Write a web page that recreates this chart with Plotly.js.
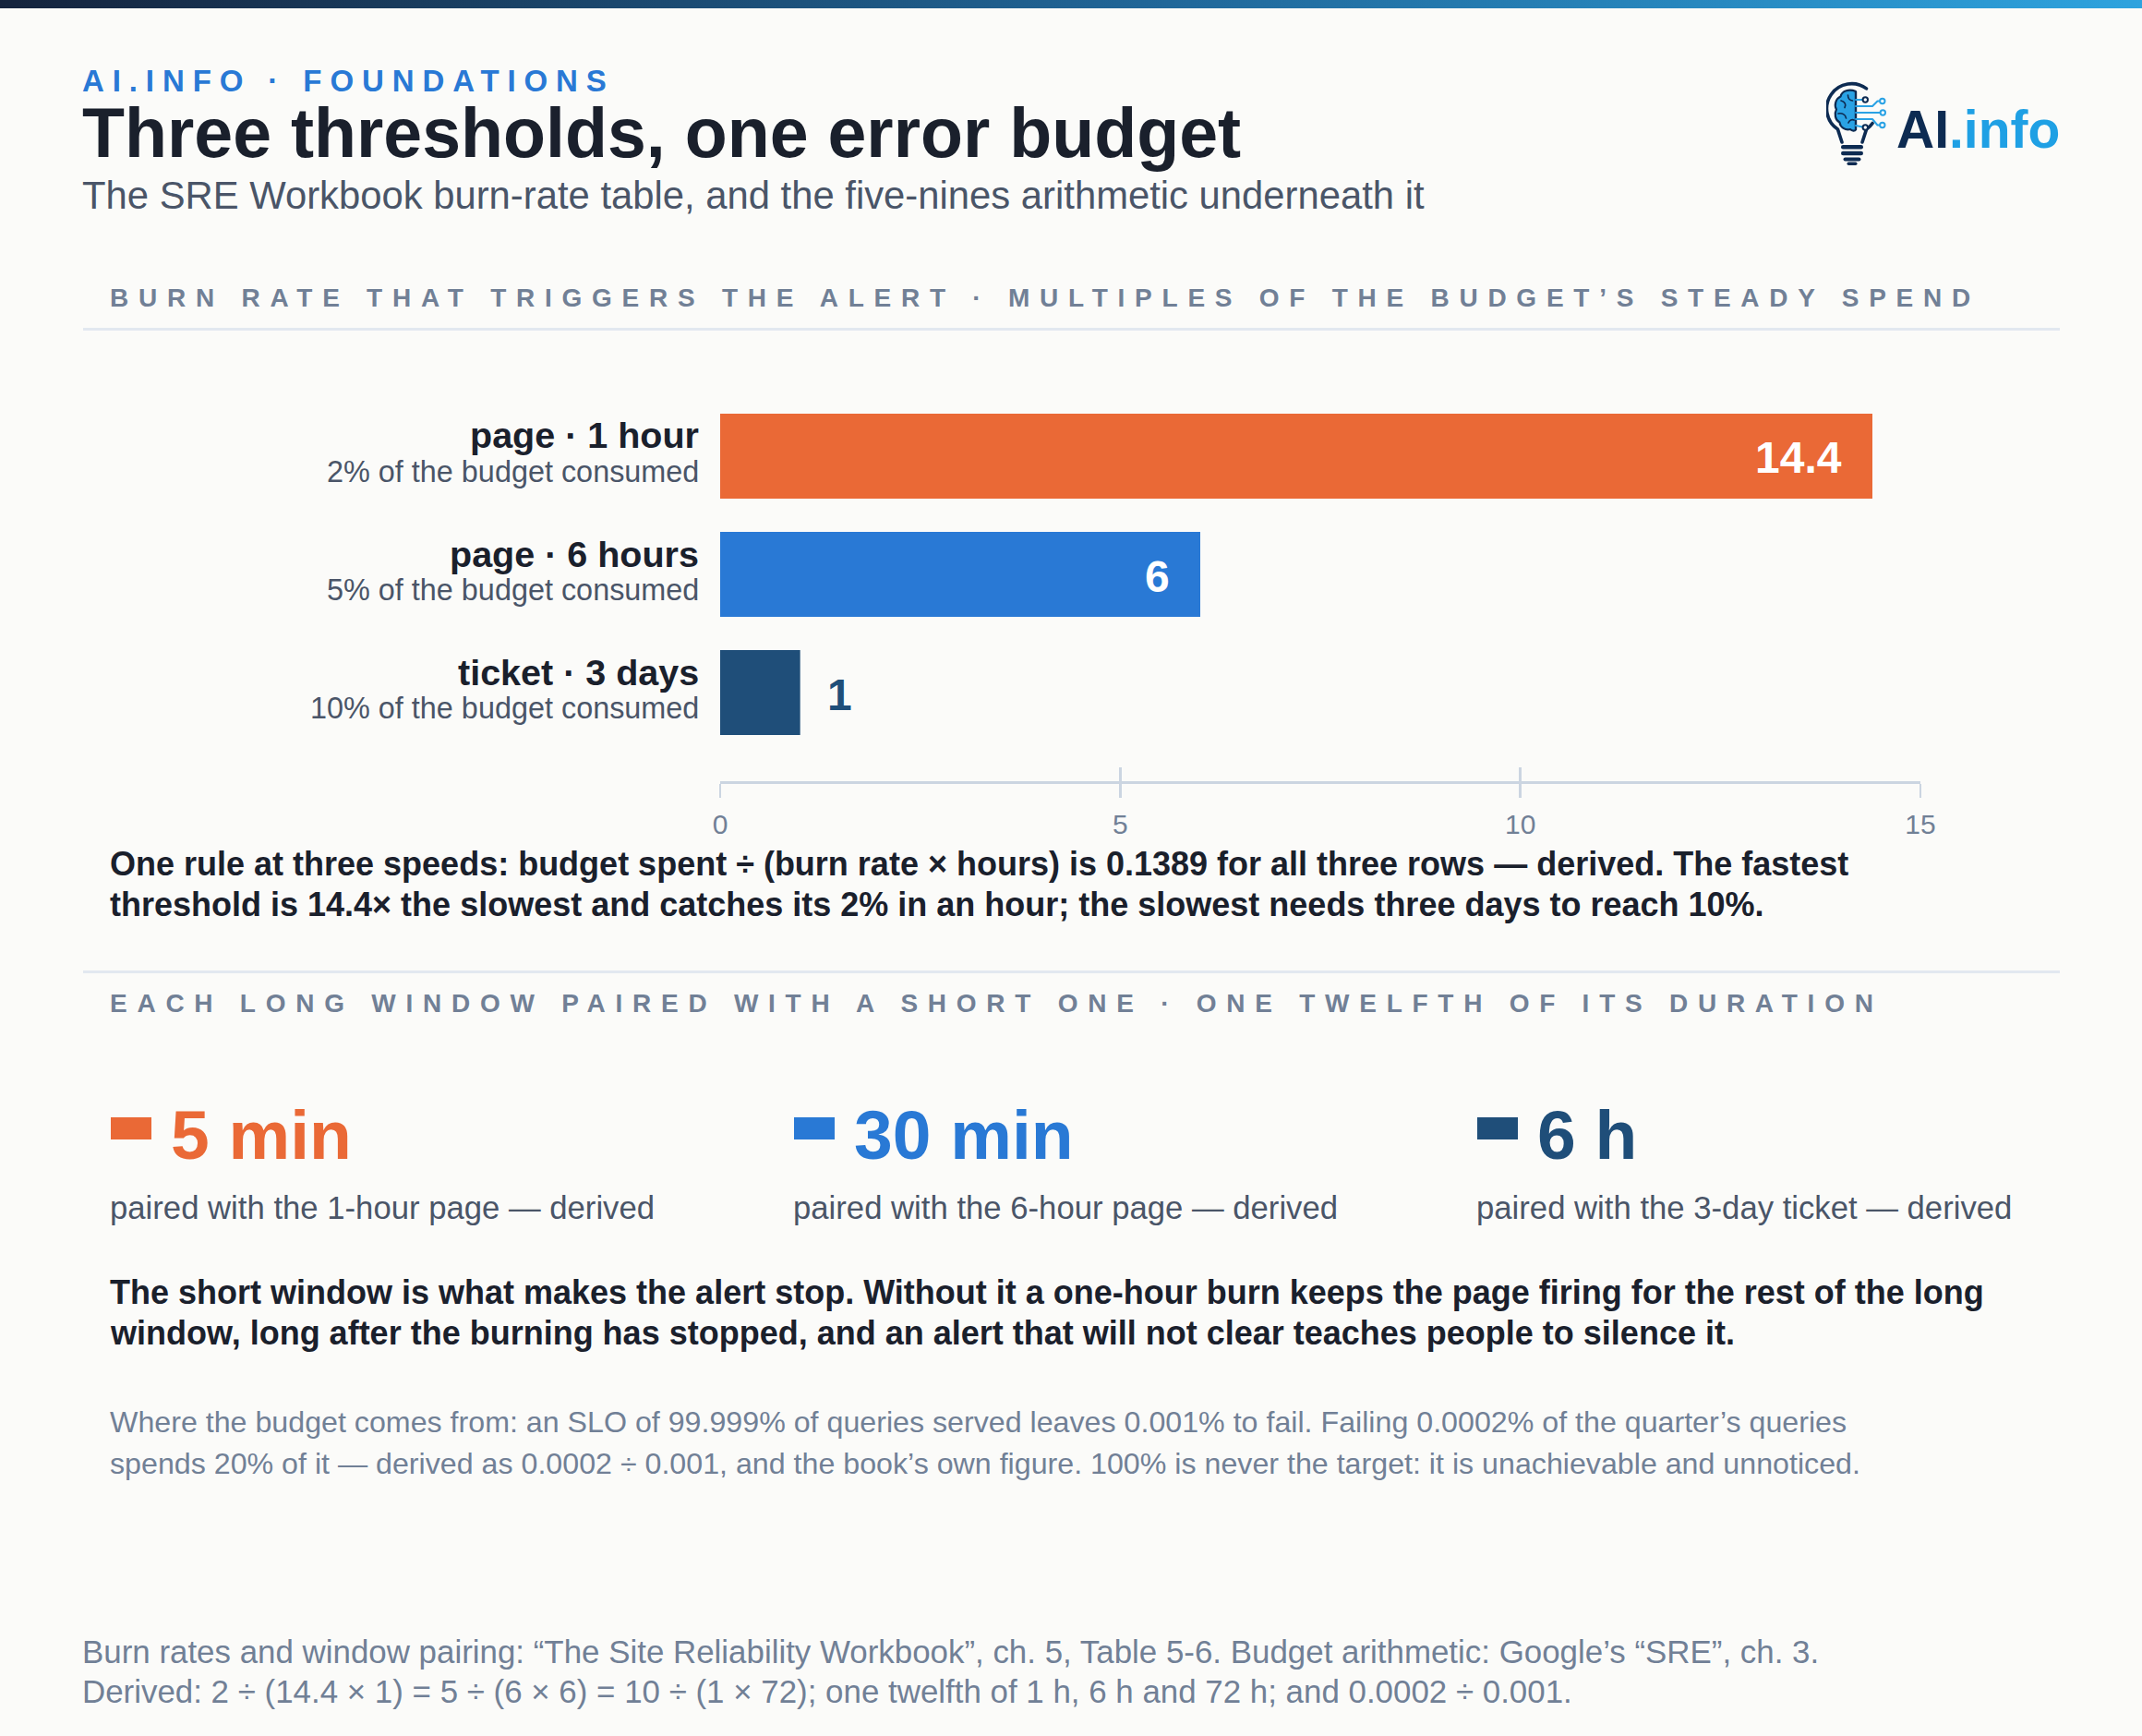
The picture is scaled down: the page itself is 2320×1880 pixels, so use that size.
<!DOCTYPE html>
<html>
<head>
<meta charset="utf-8">
<script src="https://cdn.plot.ly/plotly-3.0.1.min.js"></script>
<style>
html, body { margin: 0; padding: 0; background: #fbfbf9; }
#chart { width: 2320px; height: 1880px; }
</style>
</head>
<body>
<div id="chart"></div>
<script>
// ---------------- DATA ----------------
const rows = ['page · 1 hour', 'page · 6 hours', 'ticket · 3 days'];
const budgetNotes = ['2% of the budget consumed', '5% of the budget consumed', '10% of the budget consumed'];
const burnRates = [14.4, 6, 1];
const xTickValues = [0, 5, 10, 15];
const shortWindows = ['5 min', '30 min', '6 h'];
const pairings = [
  'paired with the 1-hour page — derived',
  'paired with the 6-hour page — derived',
  'paired with the 3-day ticket — derived'
];

// ---------------- TEXT ----------------
const kicker = 'AI.INFO · FOUNDATIONS';
const titleText = 'Three thresholds, one error budget';
const subtitleText = 'The SRE Workbook burn-rate table, and the five-nines arithmetic underneath it';
const section1 = 'BURN RATE THAT TRIGGERS THE ALERT · MULTIPLES OF THE BUDGET’S STEADY SPEND';
const section2 = 'EACH LONG WINDOW PAIRED WITH A SHORT ONE · ONE TWELFTH OF ITS DURATION';
const para1 = [
  'One rule at three speeds: budget spent ÷ (burn rate × hours) is 0.1389 for all three rows — derived. The fastest',
  'threshold is 14.4× the slowest and catches its 2% in an hour; the slowest needs three days to reach 10%.'
];
const para2 = [
  'The short window is what makes the alert stop. Without it a one-hour burn keeps the page firing for the rest of the long',
  'window, long after the burning has stopped, and an alert that will not clear teaches people to silence it.'
];
const para3 = [
  'Where the budget comes from: an SLO of 99.999% of queries served leaves 0.001% to fail. Failing 0.0002% of the quarter’s queries',
  'spends 20% of it — derived as 0.0002 ÷ 0.001, and the book’s own figure. 100% is never the target: it is unachievable and unnoticed.'
];
const footer = [
  'Burn rates and window pairing: “The Site Reliability Workbook”, ch. 5, Table 5-6. Budget arithmetic: Google’s “SRE”, ch. 3.',
  'Derived: 2 ÷ (14.4 × 1) = 5 ÷ (6 × 6) = 10 ÷ (1 × 72); one twelfth of 1 h, 6 h and 72 h; and 0.0002 ÷ 0.001.'
];

// ---------------- STYLE ----------------
const PALETTE = ['#ea6936', '#2979d5', '#1f4e79'];
const W = 2320, H = 1880;
const FONT = '"Liberation Sans", Arial, Helvetica, sans-serif';
const INK = '#1a202c', SLATE = '#4a5568', MUTED = '#718096', RULE = '#e2e8f0', AXIS = '#cbd5e1';
const px = x => x / W;
const py = y => 1 - y / H;
const L1 = 87, L2 = 117;   // text left edges (outer / inner column)

const annotations = [];
const spacing = {};
function txt(x, y, text, size, color, opts) {
  opts = opts || {};
  if (opts.spacing) spacing[annotations.length] = opts.spacing;
  annotations.push(Object.assign({
    xref: 'paper', yref: 'paper', x: px(x), y: py(y),
    xanchor: 'left', yanchor: 'middle', align: 'left', showarrow: false, borderpad: 0,
    text: text,
    font: { family: FONT, size: size, color: color, weight: opts.bold ? 700 : 400 }
  }, opts.extra || {}));
}

// Header
txt(L1 + 1, 87.5, kicker, 33, PALETTE[1], { bold: true, spacing: 8.9 });
txt(L1 + 1, 144, titleText, 75.3, INK, { bold: true });
txt(L1 + 1, 211.5, subtitleText, 41.8, SLATE);

// Logo wordmark
txt(2053, 140, '<span style="color:#0d2b52">AI</span><span style="color:#1fa0e4">.info</span>', 57, '#0d2b52', { bold: true });

// Section headers
txt(L2 + 1, 322.5, section1, 28, MUTED, { bold: true, spacing: 10.75 });
txt(L2 + 1, 1086.5, section2, 28, MUTED, { bold: true, spacing: 10.75 });

// Row labels (through the y scale)
rows.forEach((r, i) => {
  annotations.push({
    xref: 'paper', yref: 'y', x: px(758.5), y: r, yshift: 22.5,
    xanchor: 'right', yanchor: 'middle', align: 'right', showarrow: false,
    text: r, font: { family: FONT, size: 39.5, color: INK, weight: 700 }
  });
  annotations.push({
    xref: 'paper', yref: 'y', x: px(758.5), y: r, yshift: -17,
    xanchor: 'right', yanchor: 'middle', align: 'right', showarrow: false,
    text: budgetNotes[i], font: { family: FONT, size: 32.4, color: SLATE }
  });
});

// Value labels (through the x and y scales)
burnRates.forEach((v, i) => {
  const inside = v >= 3;
  annotations.push({
    xref: 'x', yref: 'y', x: v, y: rows[i],
    xanchor: inside ? 'right' : 'left', yanchor: 'middle',
    xshift: inside ? -31 : 27, yshift: -2, showarrow: false,
    text: String(v),
    font: { family: FONT, size: 48, color: inside ? '#ffffff' : PALETTE[i], weight: 700 }
  });
});

// Paragraphs
para1.forEach((l, i) => txt(L2 + 1, 936 + i * 43.5, l, 36, INK, { bold: true }));
para2.forEach((l, i) => txt(L2 + 1, 1399 + i * 44.5, l, 36, INK, { bold: true }));
para3.forEach((l, i) => txt(L2 + 1, 1540 + i * 44.5, l, 32.2, MUTED));
footer.forEach((l, i) => txt(L1 + 1, 1788 + i * 43, l, 34.9, MUTED));

// Stat row
const shapes = [];
shortWindows.forEach((w, i) => {
  const cx = 120 + i * 740;
  shapes.push({ type: 'rect', xref: 'paper', yref: 'paper', x0: px(cx), x1: px(cx + 44), y0: py(1234), y1: py(1210),
    fillcolor: PALETTE[i], line: { width: 0 } });
  txt(cx + 63.5, 1229, w, 75, PALETTE[i], { bold: true });
  txt(cx - 2, 1308, pairings[i], 34.7, SLATE);
});

// Dividers
[356.5, 1052.5].forEach(y => shapes.push({ type: 'line', xref: 'paper', yref: 'paper', x0: px(90), x1: px(2231), y0: py(y), y1: py(y),
  line: { color: RULE, width: 3 } }));

// Images: top gradient strip and logo bulb
const gradSvg = '<svg xmlns="http://www.w3.org/2000/svg" width="2320" height="9" viewBox="0 0 2320 9" preserveAspectRatio="none">' +
  '<defs><linearGradient id="g" x1="0" x2="1" y1="0" y2="0"><stop offset="0" stop-color="#15243d"/><stop offset="0.55" stop-color="#21689a"/><stop offset="1" stop-color="#2ea3de"/></linearGradient></defs>' +
  '<rect width="2320" height="9" fill="url(#g)"/></svg>';
const bulbSvg = '<svg xmlns="http://www.w3.org/2000/svg" width="72" height="92" viewBox="0 0 72 92">' +
  '<g fill="none" stroke="#0d2b52" stroke-width="3.6" stroke-linecap="round" stroke-linejoin="round">' +
  '<path d="M43.5 7.9 A27 27 0 1 0 12.5 52.1 L17 66"/>' +
  '<path d="M39 66 L43.5 52.1 A27 27 0 0 0 50.1 45.5"/></g>' +
  '<g fill="#0d2b52"><rect x="16" y="69" width="24" height="4.4" rx="2.2"/><rect x="16" y="75.8" width="24" height="4.4" rx="2.2"/>' +
  '<rect x="18.5" y="82.5" width="19" height="4" rx="2"/><rect x="22.5" y="87.5" width="11" height="3.5" rx="1.7"/></g>' +
  '<path d="M32 11 C25 8 17 10 15.5 16.5 C10 19 8.5 26 11 30.5 C8.5 35 9.5 42 14.5 44.5 C15 50 21 53.5 26 52 C28 54 31 54 32 52.5 Z" fill="#2aa2e4" stroke="#0d2b52" stroke-width="2.2" stroke-linejoin="round"/>' +
  '<path d="M32 11 L32 52.5" stroke="#0d2b52" stroke-width="2.2"/>' +
  '<path d="M16 21 C20 22 22 25 20 28.5 M13 35 C17 34 21 36 21.5 40 M23.5 15 C23.5 19 26 21 28.5 21 M24 45 C25 42 28 41 30 42" fill="none" stroke="#0d2b52" stroke-width="1.7" stroke-linecap="round"/>' +
  '<g fill="none" stroke="#2aa2e4" stroke-width="2" stroke-linecap="round" stroke-linejoin="round">' +
  '<path d="M32 20 L39.5 20"/><path d="M32 27 L50 27 L55.5 21.5 L58 21.5"/><path d="M32 34 L58.5 34"/>' +
  '<path d="M32 41 L50 41 L55.5 47.5 L58 47.5"/><path d="M32 48 L39.5 49.5"/></g>' +
  '<g fill="#ffffff" stroke-width="2"><circle cx="42.3" cy="20" r="2.7" stroke="#0d2b52"/><circle cx="60.8" cy="21.5" r="2.7" stroke="#2aa2e4"/>' +
  '<circle cx="61.3" cy="34" r="2.7" stroke="#2aa2e4"/><circle cx="60.8" cy="47.5" r="2.7" stroke="#2aa2e4"/><circle cx="42.3" cy="50" r="2.7" stroke="#0d2b52"/></g>' +
  '</svg>';
const svgUri = s => 'data:image/svg+xml;charset=utf-8,' + encodeURIComponent(s);
const images = [
  { source: svgUri(gradSvg), xref: 'paper', yref: 'paper', x: 0, y: 1, sizex: 1, sizey: 9 / H,
    xanchor: 'left', yanchor: 'top', sizing: 'stretch', layer: 'above' },
  { source: svgUri(bulbSvg), xref: 'paper', yref: 'paper', x: px(1978), y: py(88), sizex: 72 / W, sizey: 92 / H,
    xanchor: 'left', yanchor: 'top', sizing: 'stretch', layer: 'above' }
];

// Letter-spacing for tracked caps
const css = Object.keys(spacing).map(k =>
  '.annotation[data-index="' + k + '"] text { letter-spacing: ' + spacing[k] + 'px; }').join('\n');
const st = document.createElement('style');
st.textContent = css;
document.head.appendChild(st);

// ---------------- TRACES ----------------
const traces = [
  {
    type: 'bar', orientation: 'h', x: burnRates, y: rows,
    marker: { color: PALETTE, line: { width: 0 } },
    hoverinfo: 'skip', textposition: 'none', showlegend: false
  },
  { type: 'scatter', mode: 'markers', x: [], y: [], xaxis: 'x2', yaxis: 'y', hoverinfo: 'skip', showlegend: false }
];

const xDomain = [px(780), px(2080)];
const layout = {
  width: W, height: H, autosize: false,
  margin: { l: 0, r: 0, t: 0, b: 0, pad: 0 },
  paper_bgcolor: '#fbfbf9', plot_bgcolor: 'rgba(0,0,0,0)',
  font: { family: FONT, color: MUTED },
  showlegend: false,
  bargap: 0.28,
  xaxis: {
    domain: xDomain, range: [0, 15], tickmode: 'array', tickvals: xTickValues, ticktext: xTickValues.map(String),
    ticks: 'outside', ticklen: 15, tickwidth: 2.5, tickcolor: AXIS,
    showline: true, linecolor: AXIS, linewidth: 3.3, showgrid: false, zeroline: false,
    tickfont: { family: FONT, size: 30, color: MUTED }, ticklabelstandoff: 3, fixedrange: true
  },
  xaxis2: {
    domain: xDomain, range: [0, 15], overlaying: 'x', anchor: 'y', side: 'bottom',
    tickmode: 'array', tickvals: xTickValues, ticks: 'inside', ticklen: 15, tickwidth: 2.5, tickcolor: AXIS,
    showticklabels: false, showline: false, showgrid: false, zeroline: false, fixedrange: true
  },
  yaxis: {
    domain: [py(846), py(430)], type: 'category', categoryorder: 'array', categoryarray: rows,
    range: [2.75, -0.5], showticklabels: false, ticks: '', showgrid: false, zeroline: false, showline: false, fixedrange: true
  },
  annotations: annotations,
  shapes: shapes,
  images: images
};

Plotly.newPlot('chart', traces, layout, { staticPlot: true, displayModeBar: false });
</script>
</body>
</html>
